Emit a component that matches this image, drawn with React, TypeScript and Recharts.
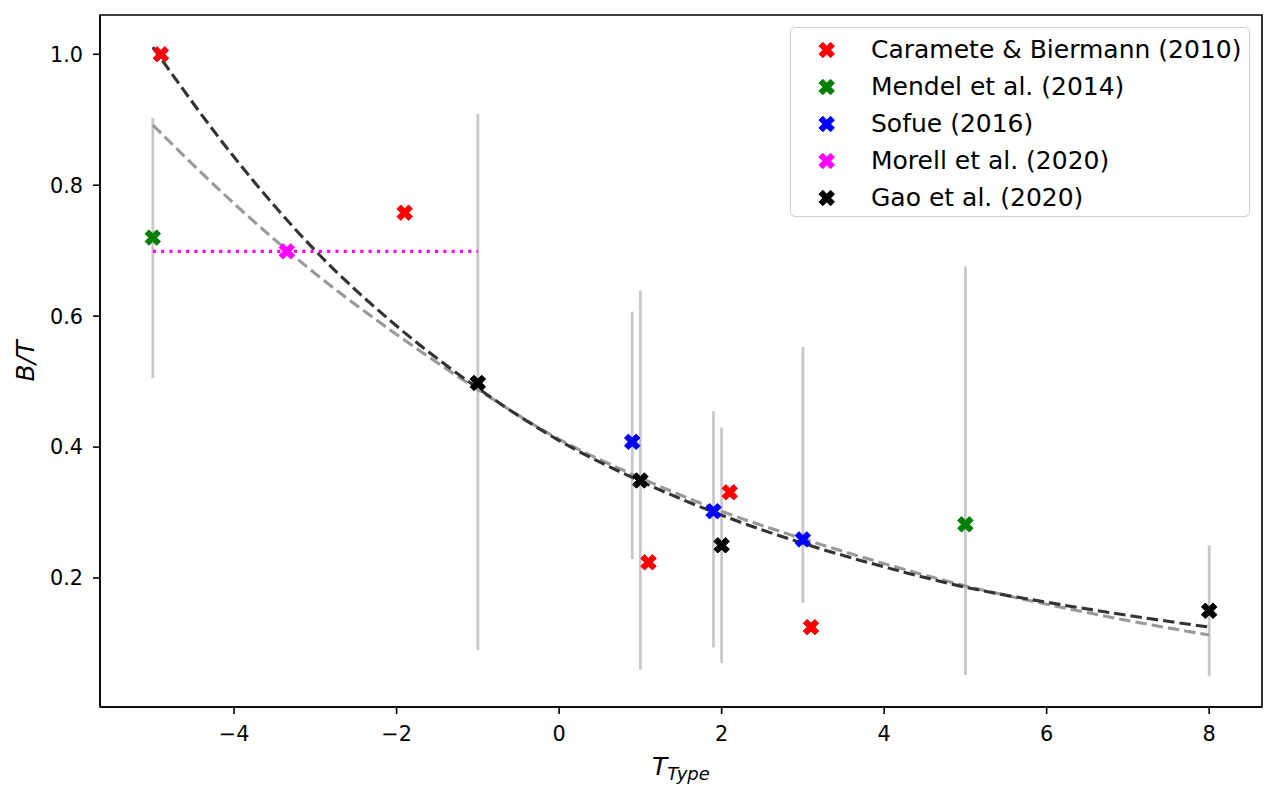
import React from 'react';
import {
  ComposedChart, Scatter, Line, XAxis, YAxis, ErrorBar, Legend, ReferenceArea,
} from 'recharts';

// ---------- data ----------
const CARAMETE = [
  { x: -4.9, y: 1.0 },
  { x: -1.9, y: 0.758 },
  { x: 1.1, y: 0.224 },
  { x: 2.1, y: 0.331 },
  { x: 3.1, y: 0.125 },
];
const MENDEL = [
  { x: -5, y: 0.72, lo: 0.505, hi: 0.903 },
  { x: 5, y: 0.282, lo: 0.052, hi: 0.676 },
];
const SOFUE = [
  { x: 0.9, y: 0.408, lo: 0.229, hi: 0.607 },
  { x: 1.9, y: 0.302, lo: 0.094, hi: 0.455 },
  { x: 3.0, y: 0.259, lo: 0.162, hi: 0.553 },
];
const MORELL = [{ x: -3.35, y: 0.699, xlo: -5, xhi: -1 }];
const GAO = [
  { x: -1, y: 0.498, lo: 0.09, hi: 0.909 },
  { x: 1, y: 0.349, lo: 0.06, hi: 0.639 },
  { x: 2, y: 0.25, lo: 0.07, hi: 0.43 },
  { x: 8, y: 0.15, lo: 0.05, hi: 0.25 },
];
const FIT_X = [-5, -4, -3, -2, -1, 0, 1, 2, 3, 4, 5, 6, 7, 8];
const FIT_DARK = [1.011, 0.843, 0.7, 0.585, 0.49, 0.41, 0.348, 0.296, 0.253, 0.217, 0.186, 0.163, 0.143, 0.125];
const FIT_GRAY = [0.892, 0.772, 0.665, 0.572, 0.488, 0.412, 0.353, 0.302, 0.26, 0.222, 0.188, 0.16, 0.135, 0.113];
const X_TICKS = [-4, -2, 0, 2, 4, 6, 8];
const Y_TICKS = [0.2, 0.4, 0.6, 0.8, 1.0];

const SERIES = [
  { name: 'Caramete & Biermann (2010)', color: '#ff0000', data: CARAMETE },
  { name: 'Mendel et al. (2014)', color: '#008000', data: MENDEL },
  { name: 'Sofue (2016)', color: '#0000ff', data: SOFUE },
  { name: 'Morell et al. (2020)', color: '#ff00ff', data: MORELL },
  { name: 'Gao et al. (2020)', color: '#000000', data: GAO },
];

// derived tables
const withErr = (arr: any[]) => arr.map((d) => ({ ...d, err: [d.y - d.lo, d.hi - d.y] }));
const MENDEL_E = withErr(MENDEL);
const SOFUE_E = withErr(SOFUE);
const GAO_E = withErr(GAO);
const MORELL_E = MORELL.map((d) => ({ ...d, xerr: [d.x - d.xlo, d.xhi - d.x] }));
const DARK_LINE = FIT_X.map((x, i) => ({ x, y: FIT_DARK[i] }));
const GRAY_LINE = FIT_X.map((x, i) => ({ x, y: FIT_GRAY[i] }));

const FONT = '"DejaVu Sans", sans-serif';
const X_VERTS = [
  [0.25, 0], [0.5, 0.25], [0.75, 0], [1, 0.25], [0.75, 0.5], [1, 0.75],
  [0.75, 1], [0.5, 0.75], [0.25, 1], [0, 0.75], [0.25, 0.5], [0, 0.25],
];
const S = 15.5;
const xPath = (cx: number, cy: number) =>
  X_VERTS.map((v, i) => `${i ? 'L' : 'M'}${cx + (v[0] - 0.5) * S},${cy + (v[1] - 0.5) * S}`).join(' ') + ' Z';

const makeX = (color: string) => (props: any) => {
  const { cx, cy } = props;
  if (cx == null || cy == null) return <g />;
  return <path d={xPath(cx, cy)} fill={color} stroke={color} strokeWidth={1} />;
};
const empty = () => <g />;

const fmtTick = (v: number) => (v < 0 ? '\u2212' + Math.abs(v) : String(v));

const XLabel = (props: any) => {
  const vb = props.viewBox || {};
  const cx = vb.x + vb.width / 2;
  const by = vb.y + 68;
  return (
    <text x={cx - 29} y={by} fontFamily={FONT} fontStyle="italic" fontSize={25} fill="#000">
      <tspan>T</tspan>
      <tspan fontSize={18} dy={5}>Type</tspan>
    </text>
  );
};

const YLabel = (props: any) => {
  const vb = props.viewBox || {};
  const cy = vb.y + vb.height / 2;
  const cx = 17;
  return (
    <text
      x={cx}
      y={cy}
      transform={`rotate(-90 ${cx} ${cy})`}
      textAnchor="middle"
      dominantBaseline="central"
      fontFamily={FONT}
      fontStyle="italic"
      fontSize={25}
      fill="#000"
    >
      B/T
    </text>
  );
};

const LegendBox = () => (
  <div
    style={{
      position: 'relative',
      width: 460,
      height: 190,
      boxSizing: 'border-box',
      border: '1.5px solid #d0d0d0',
      borderRadius: 5,
      background: 'rgba(255,255,255,0.8)',
      fontFamily: FONT,
      fontSize: 25,
      color: '#000',
    }}
  >
    {SERIES.map((s, i) => {
      const cy = 21.6 + 37.1 * i;
      return (
        <div key={s.name} style={{ position: 'absolute', left: 0, top: cy - 18, height: 36, width: 460 }}>
          <svg width={60} height={36} style={{ position: 'absolute', left: 0, top: 0 }}>
            <path d={xPath(35.7, 18)} fill={s.color} stroke={s.color} strokeWidth={1} />
          </svg>
          <span style={{ position: 'absolute', left: 80, top: 0, lineHeight: '36px', whiteSpace: 'nowrap' }}>
            {s.name}
          </span>
        </div>
      );
    })}
  </div>
);

export default function App() {
  const errStroke = '#c8c8c8';
  return (
    <ComposedChart
      width={1269}
      height={785}
      margin={{ top: 7, right: 15, left: 0, bottom: 0 }}
      style={{ fontFamily: FONT }}
    >
      <XAxis
        type="number"
        dataKey="x"
        domain={[-5.65, 8.65]}
        allowDataOverflow
        ticks={X_TICKS}
        tickFormatter={fmtTick}
        height={86}
        tickSize={7}
        tickMargin={12}
        tick={{ fill: '#000', fontSize: 20.8, fontFamily: FONT }}
        tickLine={{ stroke: '#000', strokeWidth: 1.6 }}
        axisLine={{ stroke: '#000', strokeWidth: 1.6 }}
        label={{ content: XLabel }}
      />
      <YAxis
        type="number"
        dataKey="y"
        domain={[0.003, 1.06]}
        allowDataOverflow
        ticks={Y_TICKS}
        tickFormatter={(v: number) => v.toFixed(1)}
        width={92}
        tickSize={7}
        tickMargin={10}
        tick={{ fill: '#000', fontSize: 20.8, fontFamily: FONT }}
        tickLine={{ stroke: '#000', strokeWidth: 1.6 }}
        axisLine={{ stroke: '#000', strokeWidth: 1.6 }}
        label={{ content: YLabel }}
      />

      {/* error bars (under lines and markers) */}
      <Scatter data={MENDEL_E} shape={empty} isAnimationActive={false} legendType="none">
        <ErrorBar dataKey="err" direction="y" width={0} stroke={errStroke} strokeWidth={2.8} />
      </Scatter>
      <Scatter data={SOFUE_E} shape={empty} isAnimationActive={false} legendType="none">
        <ErrorBar dataKey="err" direction="y" width={0} stroke={errStroke} strokeWidth={2.8} />
      </Scatter>
      <Scatter data={GAO_E} shape={empty} isAnimationActive={false} legendType="none">
        <ErrorBar dataKey="err" direction="y" width={0} stroke={errStroke} strokeWidth={2.8} />
      </Scatter>
      <Scatter data={MORELL_E} shape={empty} isAnimationActive={false} legendType="none">
        <ErrorBar
          dataKey="xerr"
          direction="x"
          width={0}
          stroke="#ff00ff"
          strokeWidth={3.1}
          strokeDasharray="3.1 5.2"
        />
      </Scatter>

      {/* fitted curves */}
      <Line
        data={GRAY_LINE}
        dataKey="y"
        type="monotone"
        dot={false}
        stroke="#999999"
        strokeWidth={3.1}
        strokeDasharray="11.5 5"
        isAnimationActive={false}
        legendType="none"
      />
      <Line
        data={DARK_LINE}
        dataKey="y"
        type="monotone"
        dot={false}
        stroke="#333333"
        strokeWidth={3.1}
        strokeDasharray="11.5 5"
        isAnimationActive={false}
        legendType="none"
      />

      {/* markers */}
      {SERIES.map((s) => (
        <Scatter
          key={s.name}
          name={s.name}
          data={s.data}
          fill={s.color}
          shape={makeX(s.color)}
          isAnimationActive={false}
        />
      ))}

      <ReferenceArea
        x1={-5.65}
        x2={8.65}
        y1={0.003}
        y2={1.06}
        fill="none"
        fillOpacity={0}
        stroke="#000"
        strokeWidth={1.6}
        ifOverflow="visible"
      />

      <Legend
        layout="vertical"
        align="center"
        verticalAlign="middle"
        content={LegendBox}
        wrapperStyle={{ position: 'absolute', left: 782, top: 19, width: 460, height: 190 }}
      />
    </ComposedChart>
  );
}
